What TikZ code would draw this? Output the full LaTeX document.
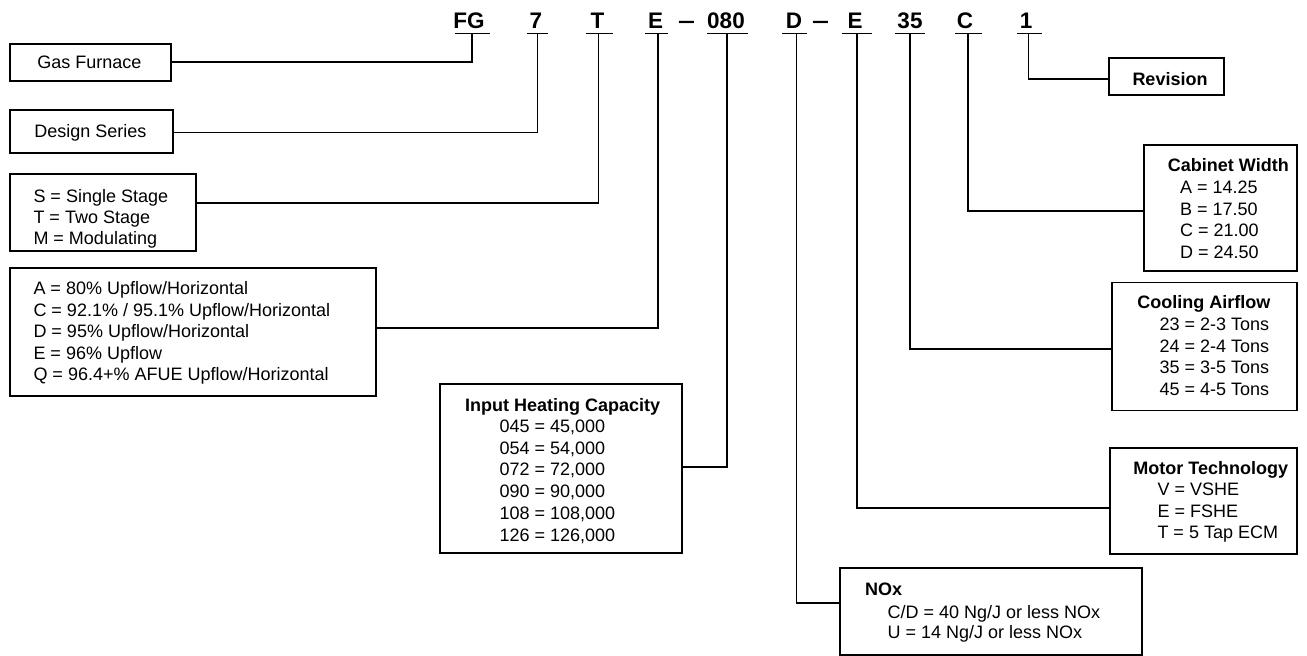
\documentclass[tikz,border=0pt]{standalone}
\usepackage{fontspec}
\setmainfont{Liberation Sans}
\usetikzlibrary{calc}
\begin{document}
\begin{tikzpicture}[x=1pt,y=-1pt]
\tikzset{
 box/.style={draw, line width=1.8pt, inner sep=0pt, anchor=north west},
 txt/.style={inner sep=0pt, anchor=base west, font=\fontsize{18}{21.5}\selectfont},
 ctxt/.style={inner sep=0pt, anchor=base, font=\fontsize{18}{21.5}\selectfont},
 ttl/.style={inner sep=0pt, anchor=base, font=\fontsize{18}{21.5}\selectfont\bfseries},
 code/.style={inner sep=0pt, anchor=base, font=\fontsize{22.5}{26}\selectfont\bfseries},
 link/.style={line width=1.8pt, line join=miter},
 uline/.style={line width=1.8pt},
}
\useasboundingbox[fill=white] (0,0) rectangle (1307,656);

% ---- code letters ----
\node[code] (cFG) at (469,28.3) {FG};
\node[code] (c7) at (536,28.3) {7};
\node[code] (cT) at (597.5,28.3) {T};
\node[code] (cE) at (655.5,28.3) {E};
\node[code] (dash1) at (686.5,28.3) {\scalebox{1.35}[1]{–}};
\node[code] (c080) at (726,28.3) {080};
\node[code] (cD) at (794,28.3) {D};
\node[code] (dash2) at (820.5,28.3) {\scalebox{1.35}[1]{–}};
\node[code] (cE2) at (855,28.3) {E};
\node[code] (c35) at (910,28.3) {35};
\node[code] (cC) at (965,28.3) {C};
\node[code] (c1) at (1026,28.3) {1};

% underlines
\draw[uline] (455,33.5) -- (490,33.5);
\draw[uline] (527,33.5) -- (548,33.5);
\draw[uline] (586,33.5) -- (613,33.5);
\draw[uline] (645,33.5) -- (668,33.5);
\draw[uline] (707,33.5) -- (748,33.5);
\draw[uline] (782,33.5) -- (807,33.5);
\draw[uline] (842,33.5) -- (872,33.5);
\draw[uline] (895,33.5) -- (925,33.5);
\draw[uline] (955,33.5) -- (982,33.5);
\draw[uline] (1017,33.5) -- (1042,33.5);

\coordinate (uFG) at (472,33.5);
\coordinate (u7) at (537.5,33.5);
\coordinate (uT) at (598.5,33.5);
\coordinate (uE) at (657.7,33.5);
\coordinate (u080) at (726.7,33.5);
\coordinate (uD) at (796.5,33.5);
\coordinate (uE2) at (857,33.5);
\coordinate (u35) at (910,33.5);
\coordinate (uC) at (968.3,33.5);
\coordinate (u1) at (1028.5,33.5);

% ---- boxes ----
\node[box, minimum width=161pt, minimum height=37pt] (gas) at (9,43) {};
\node[ctxt] (gasT) at (89.5,68) {Gas Furnace};
\node[box, minimum width=163pt, minimum height=43pt] (design) at (9,109) {};
\node[ctxt] (designT) at (90.5,137) {Design Series};

\node[box, minimum width=186pt, minimum height=77pt] (stm) at (9,173) {};
\foreach \t [count=\i from 0] in {S = Single Stage, T = Two Stage, M = Modulating}
  \node[txt] (stm\i) at (33.3,{202+21*\i}) {\t};

\node[box, minimum width=366pt, minimum height=128pt] (furn) at (9,267) {};
\foreach \t [count=\i from 0] in {A = 80\% Upflow/Horizontal, C = 92.1\% / 95.1\% Upflow/Horizontal, D = 95\% Upflow/Horizontal, E = 96\% Upflow, Q = 96.4+\% AFUE Upflow/Horizontal}
  \node[txt] (furn\i) at (33.3,{294.6+21.5*\i}) {\t};

\node[box, minimum width=242pt, minimum height=169pt] (input) at (439,383) {};
\node[ttl] (inputT) at (562.7,411.3) {Input Heating Capacity};
\foreach \t [count=\i from 0] in {045 = 45{,}000, 054 = 54{,}000, 072 = 72{,}000, 090 = 90{,}000, 108 = 108{,}000, 126 = 126{,}000}
  \node[txt] (input\i) at (499.3,{432.3+21.75*\i}) {\t};

\node[box, minimum width=115pt, minimum height=37pt] (rev) at (1108,57) {};
\node[ttl] (revT) at (1170,85) {Revision};

\node[box, minimum width=153pt, minimum height=126pt] (cab) at (1143,144) {};
\node[ttl] (cabT) at (1228.3,171.5) {Cabinet Width};
\foreach \t [count=\i from 0] in {A = 14.25, B = 17.50, C = 21.00, D = 24.50}
  \node[txt] (cab\i) at (1180,{193.6+21.5*\i}) {\t};

\node[box, minimum width=185pt, minimum height=128pt] (cool) at (1111,281.5) {};
\node[ttl] (coolT) at (1203.8,308) {Cooling Airflow};
\foreach \t [count=\i from 0] in {23 = 2-3 Tons, 24 = 2-4 Tons, 35 = 3-5 Tons, 45 = 4-5 Tons}
  \node[txt] (cool\i) at (1159.3,{330.6+21.6*\i}) {\t};

\node[box, minimum width=187pt, minimum height=106pt] (motor) at (1109,447) {};
\node[ttl] (motorT) at (1210.8,474) {Motor Technology};
\foreach \t [count=\i from 0] in {V = VSHE, E = FSHE, T = 5 Tap ECM}
  \node[txt] (motor\i) at (1157.3,{495.6+21.6*\i}) {\t};

\node[box, minimum width=302pt, minimum height=87pt] (nox) at (839,567) {};
\node[txt, font=\fontsize{18}{21.5}\selectfont\bfseries] (noxT) at (865,595.6) {NOx};
\node[txt] (nox0) at (887.4,618.5) {C/D = 40 Ng/J or less NOx};
\node[txt] (nox1) at (887.4,638.5) {U = 14 Ng/J or less NOx};

% ---- connectors ----
\draw[link] (uFG) |- (gas.east |- 0,62);
\draw[link] (u7) |- (design.east |- 0,132.5);
\draw[link] (uT) |- (stm.east |- 0,203.3);
\draw[link] (uE) |- (furn.east |- 0,328.3);
\draw[link] (u080) |- (input.east |- 0,467.3);
\draw[link] (uD) |- (nox.west |- 0,602.7);
\draw[link] (uE2) |- (motor.west |- 0,508.3);
\draw[link] (u35) |- (cool.west |- 0,349.3);
\draw[link] (uC) |- (cab.west |- 0,210.7);
\draw[link] (u1) |- (rev.west |- 0,79.3);
\end{tikzpicture}
\end{document}
